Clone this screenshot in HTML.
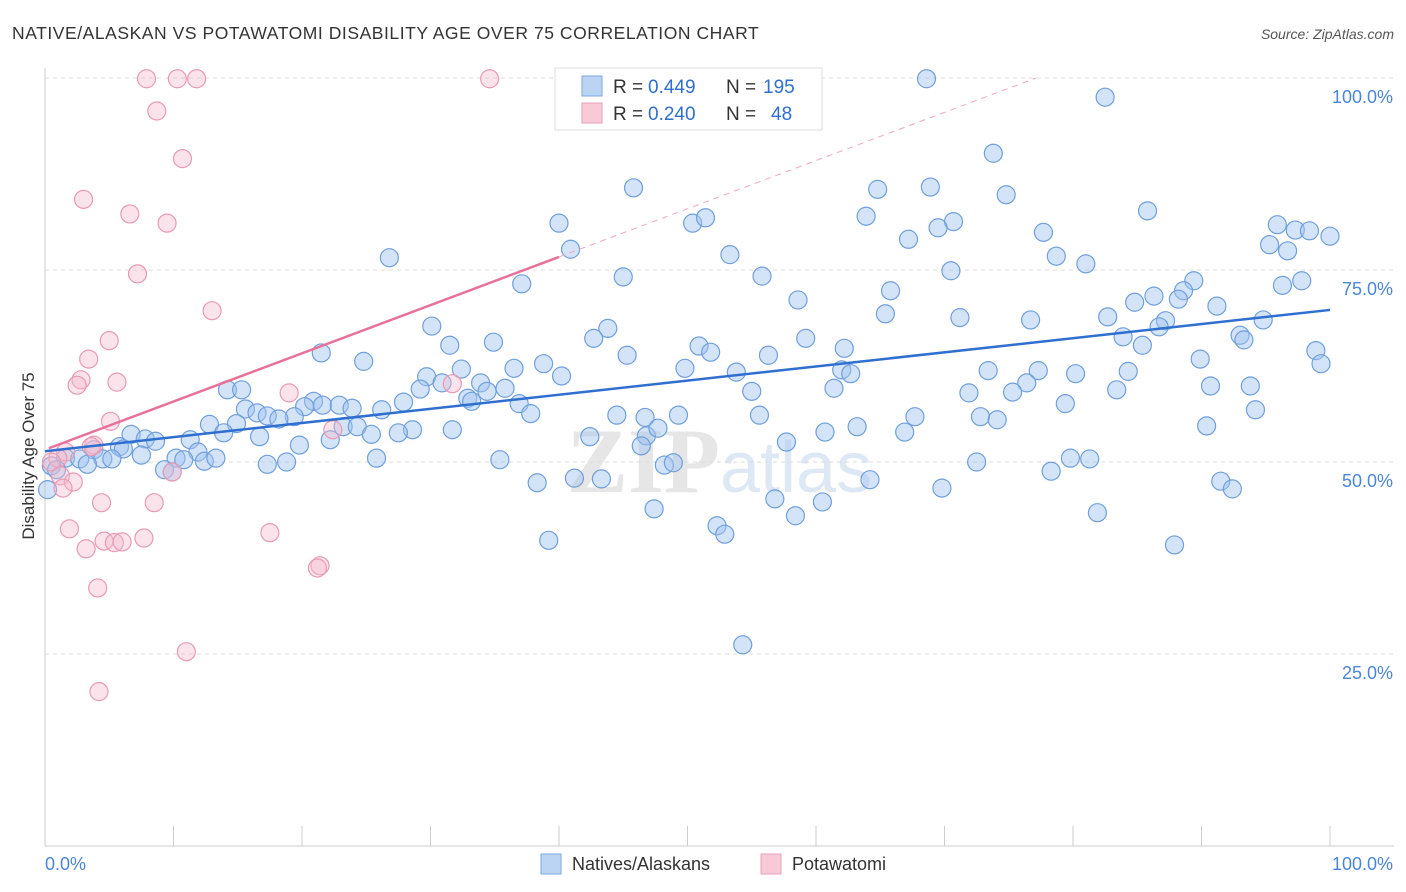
<!DOCTYPE html>
<html><head><meta charset="utf-8"><style>
body{margin:0;background:#fff;font-family:"Liberation Sans",sans-serif;}
svg{display:block}
</style></head><body>
<svg id="chart" width="1406" height="892">
<text x="12" y="39" font-size="17.5" letter-spacing="0.55" fill="#333">NATIVE/ALASKAN VS POTAWATOMI DISABILITY AGE OVER 75 CORRELATION CHART</text>
<text x="1394" y="39" font-size="14" fill="#555" text-anchor="end" font-style="italic">Source: ZipAtlas.com</text>
<text x="720" y="492" font-size="92" fill="#e6e6e6" text-anchor="end" font-family="Liberation Serif" font-weight="bold">ZIP</text>
<text x="720" y="492" font-size="72" fill="#dde8f4">atlas</text>
<g id="grid"></g>
<g id="axes"></g>
<g id="pts"></g>
<g id="trend"></g>
<text transform="translate(34,456) rotate(-90)" font-size="17" fill="#333" text-anchor="middle">Disability Age Over 75</text>
<g>
<rect x="555" y="68" width="267" height="62" fill="#fff" stroke="#ddd"/>
<rect x="582" y="76" width="20" height="20" fill="#bcd4f4" stroke="#7aa8e0"/>
<rect x="582" y="103" width="20" height="20" fill="#f8cad8" stroke="#eaa0b8"/>
<text x="613" y="93" font-size="19" fill="#333">R =</text>
<text x="648" y="93" font-size="19" fill="#2f6fd0">0.449</text>
<text x="726" y="93" font-size="19" fill="#333">N =</text>
<text x="763" y="93" font-size="19" fill="#2f6fd0">195</text>
<text x="613" y="120" font-size="19" fill="#333">R =</text>
<text x="648" y="120" font-size="19" fill="#2f6fd0">0.240</text>
<text x="726" y="120" font-size="19" fill="#333">N =</text>
<text x="771" y="120" font-size="19" fill="#2f6fd0">48</text>
</g>
<g>
<rect x="541" y="854" width="20" height="20" fill="#bcd4f4" stroke="#7aa8e0"/>
<text x="572" y="870" font-size="18" fill="#333">Natives/Alaskans</text>
<rect x="761" y="854" width="20" height="20" fill="#f8cad8" stroke="#eaa0b8"/>
<text x="792" y="870" font-size="18" fill="#333">Potawatomi</text>
</g>
</svg>
<script>
const blueX=[68.6,82.5,73.8,45.8,64.8,68.9,74.8,40.0,50.4,51.4,63.9,70.7,69.5,85.8,77.7,95.9,97.3,98.4,100,95.3,96.7,67.2,40.9,53.3,26.8,78.7,81.0,70.5,45.0,55.8,37.1,89.4,88.6,86.3,96.3,97.8,65.8,58.6,84.8,88.2,91.2,65.4,71.2,76.7,82.7,94.8,30.1,43.8,87.2,86.7,42.7,59.2,83.9,93.0,93.3,85.4,34.9,31.5,50.9,51.8,62.2,21.5,45.3,56.3,98.9,89.9,99.3,24.8,38.8,36.5,32.4,49.8,73.4,77.3,80.2,84.3,40.2,53.8,62.0,62.7,29.7,30.9,33.9,76.4,93.8,90.7,14.2,15.3,29.2,34.4,35.8,55.0,61.4,71.9,75.3,83.4,32.9,33.2,27.9,79.4,20.9,20.2,21.6,22.9,23.9,36.9,15.6,16.5,17.3,19.4,18.2,26.2,37.8,44.5,46.7,49.3,55.6,67.7,72.8,74.1,94.2,12.8,14.9,23.2,24.3,90.4,46.8,42.4,47.7,63.2,66.9,60.7,25.4,28.6,31.7,13.9,16.7,27.5,6.7,7.8,8.6,11.3,19.8,22.2,57.7,46.4,5.8,6.1,3.8,11.9,1.6,2.7,4.5,5.2,7.5,10.2,10.8,12.4,13.3,3.3,17.3,18.8,25.8,35.4,48.2,48.9,72.5,79.8,81.3,9.3,9.9,78.3,38.3,41.2,43.3,64.2,91.5,92.4,69.8,56.8,60.5,47.4,58.4,81.9,52.3,52.9,39.2,87.9,54.3,0.5,0.2,0.9];
const blueY=[99.9,97.5,90.2,85.7,85.5,85.8,84.8,81.1,81.1,81.8,82.0,81.3,80.5,82.7,79.9,80.9,80.2,80.1,79.4,78.3,77.5,79.0,77.7,77.0,76.6,76.8,75.8,74.9,74.1,74.2,73.2,73.6,72.3,71.6,73.0,73.6,72.3,71.1,70.8,71.2,70.3,69.3,68.8,68.5,68.9,68.5,67.7,67.4,68.4,67.6,66.1,66.1,66.3,66.5,65.9,65.2,65.6,65.2,65.1,64.3,64.8,64.2,63.9,63.9,64.5,63.4,62.8,63.1,62.8,62.2,62.1,62.2,61.9,61.9,61.5,61.8,61.2,61.7,62.0,61.5,61.1,60.3,60.3,60.3,59.9,59.9,59.4,59.4,59.5,59.2,59.6,59.2,59.6,59.0,59.1,59.4,58.3,57.9,57.8,57.6,57.9,57.2,57.4,57.4,57.0,57.6,56.9,56.4,56.0,55.9,55.6,56.8,56.3,56.1,55.8,56.1,56.1,55.9,55.9,55.5,56.8,54.9,55.0,54.6,54.6,54.7,53.4,53.3,54.4,54.6,53.9,53.9,53.6,54.2,54.2,53.8,53.3,53.8,53.6,53.0,52.7,52.9,52.2,52.9,52.6,52.1,52.0,51.7,51.6,51.3,50.5,50.4,50.4,50.4,50.9,50.5,50.3,50.1,50.5,49.7,49.7,50.0,50.5,50.3,49.6,49.9,50.0,50.5,50.4,49.0,48.7,48.8,47.3,47.9,47.8,47.7,47.5,46.5,46.6,45.2,44.8,43.9,43.0,43.4,41.7,40.6,39.8,39.2,26.2,49.5,46.4,49.0];
const pinkX=[7.9,10.3,11.8,34.6,8.7,10.7,3.0,6.6,9.5,7.2,13.0,5.0,3.4,2.8,2.5,5.6,19.0,31.7,5.1,22.4,3.8,1.6,1.0,0.5,1.2,2.2,1.4,4.4,8.5,1.9,17.5,7.7,4.6,5.4,6.0,3.2,21.4,21.2,4.1,11.0,4.2,9.9,3.6];
const pinkY=[99.9,99.9,99.9,99.9,95.7,89.5,84.2,82.3,81.1,74.5,69.7,65.8,63.4,60.7,60.0,60.4,59.0,60.2,55.3,54.2,52.2,51.3,50.5,50.0,48.2,47.4,46.6,44.7,44.7,41.3,40.8,40.1,39.7,39.5,39.6,38.7,36.5,36.2,33.6,25.3,20.1,48.7,52.0];
const blueTrend=[51.4,69.8];
const pinkTrend=[51.6,76.7];
const yTicks=[25,50,75,100];
const yTickLabels=["25.0%","50.0%","75.0%","100.0%"];
const xTicks=[0,10,20,30,40,50,60,70,80,90,100];

const X0=45,X1=1330,Y0=846,Y1=78;
const sx=v=>X0+(X1-X0)*v/100;
const sy=v=>Y0-(Y0-Y1)*v/100;
const NS="http://www.w3.org/2000/svg";
function mk(tag,attrs,parent){const e=document.createElementNS(NS,tag);for(const k in attrs)e.setAttribute(k,attrs[k]);parent.appendChild(e);return e;}
const grid=document.getElementById('grid'),axes=document.getElementById('axes'),pts=document.getElementById('pts'),trend=document.getElementById('trend');
yTicks.forEach((t,i)=>{
 const l=mk('line',{x1:X0,x2:1394,y1:sy(t),y2:sy(t),stroke:'#ddd','stroke-dasharray':'4,4'},grid);
 
 
 const tx=mk('text',{x:1393,y:sy(t)+25,'font-size':18,fill:'#4a86d8','text-anchor':'end'},axes);
 tx.textContent=yTickLabels[i];
 
 
});
mk('line',{x1:X0,x2:X0,y1:68,y2:Y0,stroke:'#ccc'},axes);
mk('line',{x1:X0,x2:1394,y1:Y0,y2:Y0,stroke:'#ccc'},axes);
xTicks.forEach(t=>{
 const l=mk('line',{x1:sx(t),x2:sx(t),y1:826,y2:Y0,stroke:'#ccc'},axes);
 
 
});
const xl=mk('text',{x:45,y:870,'font-size':18,fill:'#4a86d8'},axes);xl.textContent='0.0%';


const xr=mk('text',{x:1393,y:870,'font-size':18,fill:'#4a86d8','text-anchor':'end'},axes);xr.textContent='100.0%';


blueX.forEach((v,i)=>{
 const c=mk('circle',{cx:sx(v),cy:sy(blueY[i]),r:9,fill:'rgba(160,196,240,0.45)',stroke:'#6f9fdc','stroke-width':1.2},pts);
 
 
});
pinkX.forEach((v,i)=>{
 const c=mk('circle',{cx:sx(v),cy:sy(pinkY[i]),r:9,fill:'rgba(245,185,205,0.4)',stroke:'#e99ab4','stroke-width':1.2},pts);
 
 
});
const bl=mk('line',{x1:sx(0),y1:sy(blueTrend[0]),x2:sx(100),y2:sy(blueTrend[1]),stroke:'#2f6fd0','stroke-width':2.5},trend);


const slope=(pinkTrend[1]-pinkTrend[0])/40;
const xEnd=Math.min(100,(100-pinkTrend[0])/slope);
const pl=mk('line',{x1:sx(0.3),y1:sy(pinkTrend[0]+slope*0.3),x2:sx(40),y2:sy(pinkTrend[1]),stroke:'#e8709a','stroke-width':2.5},trend);


const pd=mk('line',{x1:sx(40),y1:sy(pinkTrend[1]),x2:sx(xEnd),y2:sy(pinkTrend[0]+slope*xEnd),stroke:'#f0a8c0','stroke-width':1,'stroke-dasharray':'6,5'},trend);


</script>
</body></html>
